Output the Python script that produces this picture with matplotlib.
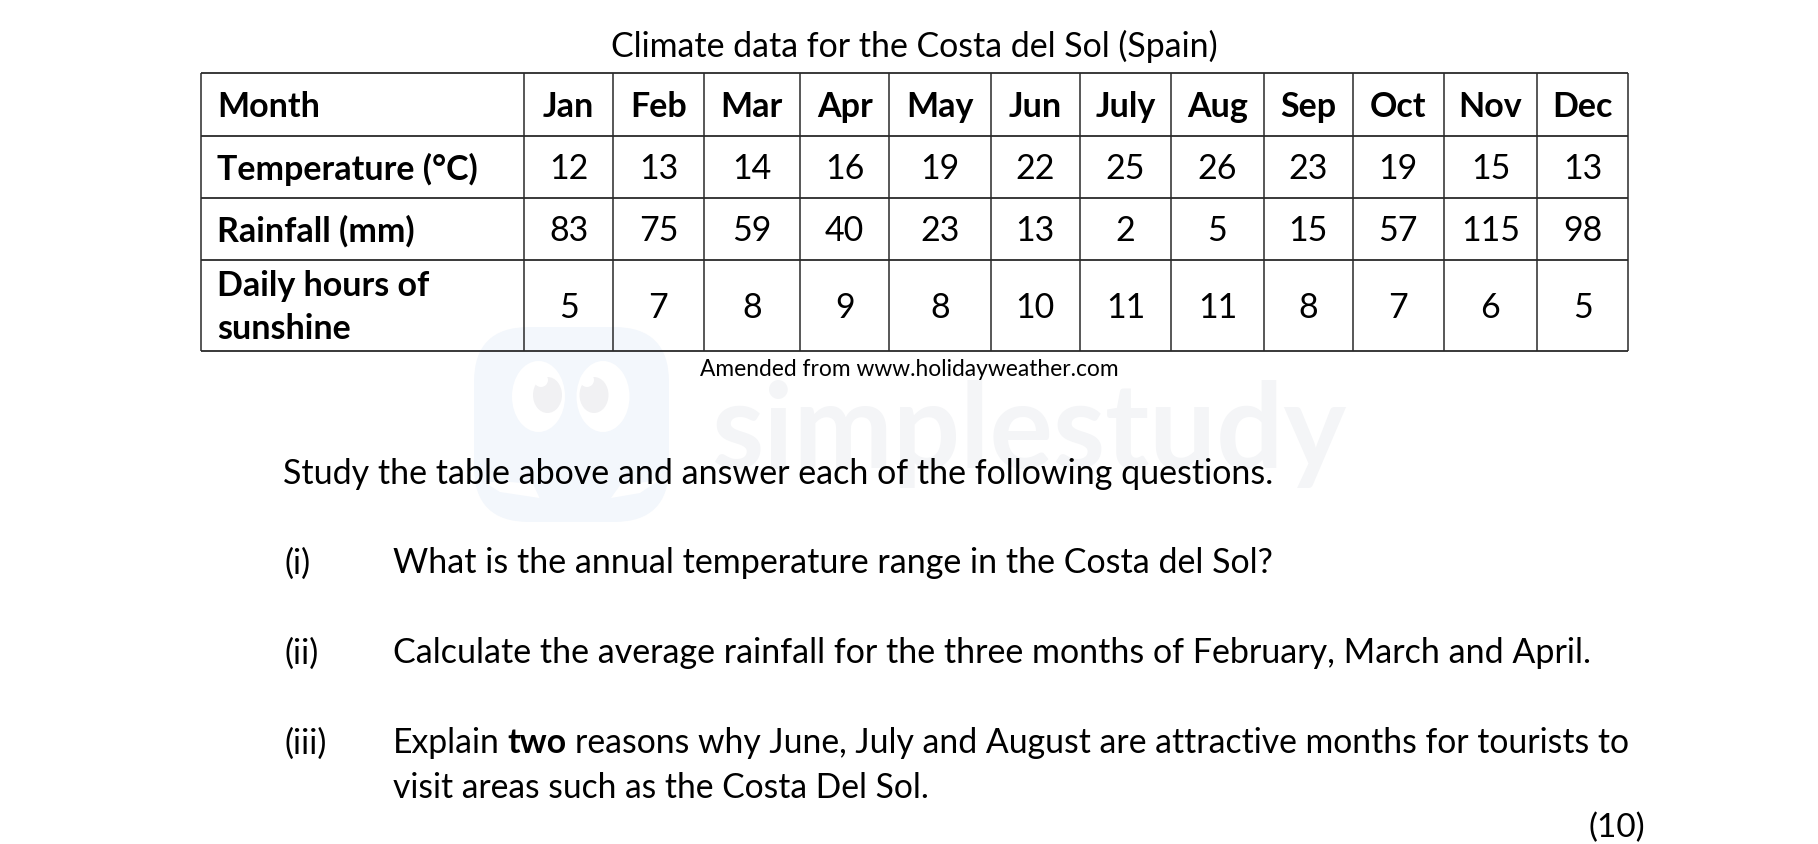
import matplotlib
matplotlib.use("Agg")
import matplotlib.pyplot as plt
from matplotlib.patches import FancyBboxPatch, Ellipse, Polygon, Circle

plt.rcParams['font.family'] = ['Lato', 'DejaVu Sans']

title = "Climate data for the Costa del Sol (Spain)"
source = "Amended from www.holidayweather.com"
row_labels = ["Month", "Temperature (°C)", "Rainfall (mm)", "Daily hours of\nsunshine"]
months = ["Jan", "Feb", "Mar", "Apr", "May", "Jun", "July", "Aug", "Sep", "Oct", "Nov", "Dec"]
temperature = [12, 13, 14, 16, 19, 22, 25, 26, 23, 19, 15, 13]
rainfall = [83, 75, 59, 40, 23, 13, 2, 5, 15, 57, 115, 98]
sunshine = [5, 7, 8, 9, 8, 10, 11, 11, 8, 7, 6, 5]

col_edges = [200.6, 524, 613.3, 703.7, 800, 889.3, 990.6, 1079.9, 1171, 1263.8, 1353, 1443.5, 1537.4, 1627.8]
row_edges = [74.3, 136.5, 198.5, 260.5, 351.7]

W, H = 1818, 845
fig = plt.figure(figsize=(W / 100, H / 100), dpi=100, facecolor='white')
ax = fig.add_axes([0, 0, 1, 1])
ax.set_xlim(0, W)
ax.set_ylim(H, 0)
ax.axis('off')

# watermark
BLUE = '#f3f7fc'
GREY = '#f4f5f7'
PUPIL = '#f1f1f3'
ax.add_patch(FancyBboxPatch((504, 358), 135, 135, boxstyle="round,pad=30,rounding_size=55",
                            fc=BLUE, ec='none', zorder=0))
ax.add_patch(Ellipse((538.5, 397.5), 53, 71, fc='white', ec='none', zorder=0.5))
ax.add_patch(Ellipse((603, 397.5), 53, 71, fc='white', ec='none', zorder=0.5))
ax.add_patch(Ellipse((547.5, 396), 29, 36, fc=PUPIL, ec='none', zorder=0.6))
ax.add_patch(Ellipse((594, 396), 29, 36, fc=PUPIL, ec='none', zorder=0.6))
ax.add_patch(Circle((541, 381), 7, fc='white', ec='none', zorder=0.7))
ax.add_patch(Circle((587, 381), 7, fc='white', ec='none', zorder=0.7))
ax.add_patch(Polygon([(484, 483), (500, 493), (539.5, 499), (533, 485), (510, 483)],
                     fc='white', ec='none', zorder=0.5))
ax.add_patch(Polygon([(611, 499), (640, 494), (661, 480), (640, 484), (621, 485)],
                     fc='white', ec='none', zorder=0.5))
ax.text(1029, 468, "simplestudy", fontsize=85.5, fontweight='bold', color=GREY,
        ha='center', va='baseline', zorder=0.4)

# table
ax.hlines(row_edges, col_edges[0], col_edges[-1], color='#2a2a2a', lw=1.3, zorder=2)
ax.vlines(col_edges, row_edges[0], row_edges[-1], color='#2a2a2a', lw=1.1, zorder=2)

TS = 24.5
rows = [months, temperature, rainfall, sunshine]
for r, (label, vals) in enumerate(zip(row_labels, rows)):
    yc = (row_edges[r] + row_edges[r + 1]) / 2
    ax.text(217, yc + 1.5, label, fontsize=TS, fontweight='bold', ha='left', va='center',
            linespacing=1.44, color='black', zorder=3)
    for c, v in enumerate(vals):
        xc = (col_edges[c + 1] + col_edges[c + 2]) / 2
        ax.text(xc, yc + 1.5, str(v), fontsize=TS, fontweight='bold' if r == 0 else 'normal',
                ha='center', va='center', color='black', zorder=3)

ax.text(914, 46, title, fontsize=24.4, ha='center', va='center', color='black', zorder=3)
ax.text(909, 369.5, source, fontsize=16.4, ha='center', va='center', color='black', zorder=3)

# questions
BODY = 24.5
ax.text(283, 474.5, "Study the table above and answer each of the following questions.",
        fontsize=BODY, ha='left', va='center', zorder=3)
labels = ["(i)", "(ii)", "(iii)"]
label_y = [563.5, 653.5, 743.5]
for t, y in zip(labels, label_y):
    ax.text(284, y, t, fontsize=BODY, ha='left', va='center', zorder=3)
ax.text(393, 563.5, "What is the annual temperature range in the Costa del Sol?", fontsize=BODY, va='center', zorder=3)
ax.text(393, 653.5, "Calculate the average rainfall for the three months of February, March and April.",
        fontsize=BODY, va='center', zorder=3)
LINE3 = 24.35
t1 = ax.text(393, 743.5, "Explain", fontsize=LINE3, va='center', zorder=3)
fig.canvas.draw()
rend = fig.canvas.get_renderer()
x = t1.get_window_extent(rend).x1 + 8
t2 = ax.text(x, 743.5, "two", fontsize=LINE3, fontweight='bold', va='center', zorder=3)
x2 = t2.get_window_extent(rend).x1 + 8
ax.text(x2, 743.5, "reasons why June, July and August are attractive months for tourists to",
        fontsize=LINE3, va='center', zorder=3)
ax.text(393, 788.5, "visit areas such as the Costa Del Sol.", fontsize=24.2, va='center', zorder=3)
ax.text(1645, 827.5, "(10)", fontsize=24, ha='right', va='center', zorder=3)

fig.savefig("out.png", dpi=100, facecolor='white')
